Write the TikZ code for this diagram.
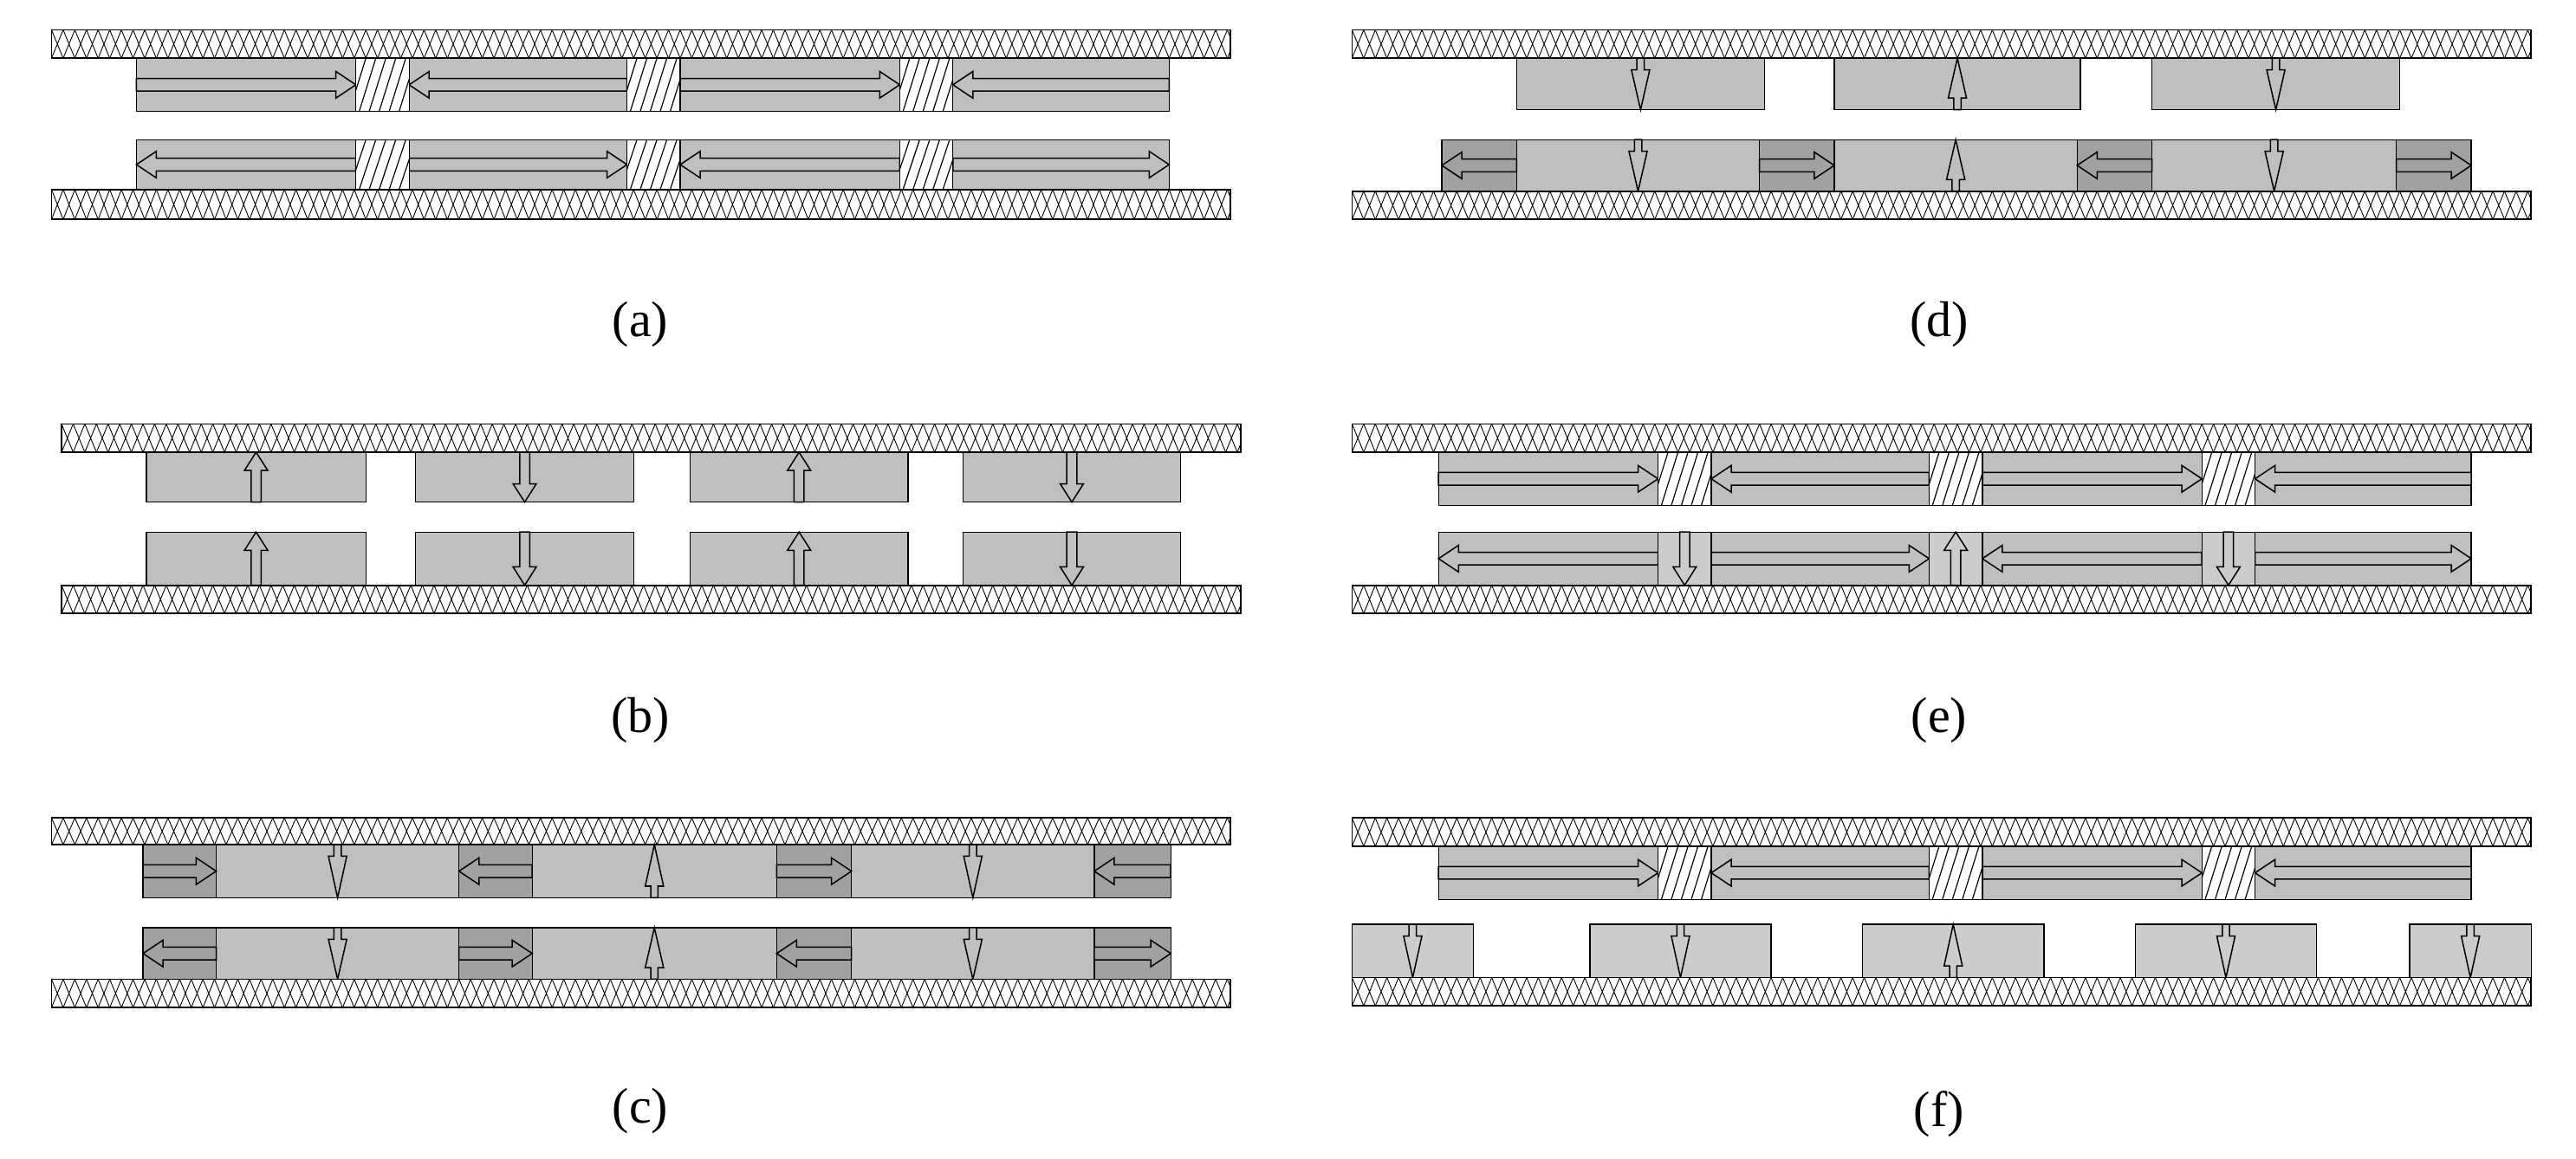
\documentclass[tikz,border=0pt]{standalone}
\usepackage{fontspec}
\setmainfont{Liberation Serif}
\definecolor{mag}{gray}{0.75}
\definecolor{magd}{gray}{0.63}
\definecolor{magl}{gray}{0.80}
\tikzset{blk/.style={fill=#1,draw=black,line width=1.3pt},blk/.default=mag,
 arr/.style={fill=#1,draw=black,line width=1.5pt,line join=miter},arr/.default=mag,
 lab/.style={font=\fontsize{58}{60}\selectfont}}
\newcommand\HArr[4][mag]{%
 \pgfmathsetmacro\hd{(#3>#2)?1:-1}\pgfmathsetmacro\hb{#3-12*\hd}%
 \draw[arr=#1] (#2,#4-3.8) -- (\hb,#4-3.8) -- (\hb,#4-8) -- (#3,#4) -- (\hb,#4+8) -- (\hb,#4+3.8) -- (#2,#4+3.8) -- cycle;}
\newcommand\FArr[4][mag]{%
 \pgfmathsetmacro\hd{(#4>#3)?1:-1}\pgfmathsetmacro\hb{#4-11*\hd}%
 \draw[arr=#1] (#2-3,#3) -- (#2-3,\hb) -- (#2-7,\hb) -- (#2,#4) -- (#2+7,\hb) -- (#2+3,\hb) -- (#2+3,#3) -- cycle;}
\newcommand\NArr[4][mag]{%
 \pgfmathsetmacro\hd{(#4>#3)?1:-1}\pgfmathsetmacro\hb{#3+7*\hd}%
 \draw[arr=#1] (#2-2.2,#3) -- (#2-2.2,\hb) -- (#2-5.5,\hb) -- (#2,#4) -- (#2+5.5,\hb) -- (#2+2.2,\hb) -- (#2+2.2,#3) -- cycle;}
\newcommand\Sub[4]{%
 \fill[white] (#1,#3) rectangle (#2,#4);
 \pgfmathsetmacro\sA{#1+7}%
 \begin{scope}\clip (#1,#3) rectangle (#2,#4);
 \foreach \i in {#1,\sA,...,#2}{\draw[line width=0.9pt] (\i,#3)--(\i+7,#4) (\i+7,#3)--(\i,#4);}
 \end{scope}
 \draw[line width=1.8pt] (#1,#3) rectangle (#2,#4);}
\newcommand\Hat[4]{%
 \fill[white] (#1,#3) rectangle (#2,#4);
 \begin{scope}\clip (#1,#3) rectangle (#2,#4);
 \foreach \i in {-10,-4,...,40}{\draw[line width=1.2pt] (#1+\i,#4)--(#1+\i+10,#3);}
 \end{scope}
 \draw[line width=1.3pt] (#1,#3) rectangle (#2,#4);}
\newcommand\LongRow[3]{%
 \draw[blk] (82,#1) rectangle (703,#2);
 \pgfmathsetmacro\yc{(#1+#2)/2}
 \ifnum#3=1
 \HArr{82}{214}{\yc}\HArr{377}{246}{\yc}\HArr{409}{541}{\yc}\HArr{703}{573}{\yc}
 \else
 \HArr{214}{82}{\yc}\HArr{246}{377}{\yc}\HArr{541}{409}{\yc}\HArr{573}{703}{\yc}
 \fi
 \Hat{214}{246}{#1}{#2}\Hat{377}{409}{#1}{#2}\Hat{541}{573}{#1}{#2}}
\begin{document}
\begin{tikzpicture}[x=1.919pt,y=-1.919pt]
\useasboundingbox (0,0) rectangle (1549,697);
% ---------- (a)
\Sub{31}{740}{18}{35}
\LongRow{35}{67}{1}
\LongRow{84}{114}{0}
\Sub{31}{740}{114}{132}
\node[lab] (la) at (385,195) {(a)};
% ---------- (b)
\Sub{37}{746}{255}{272}
\foreach \a/\b/\d in {88/220/1,250/381/0,415/546/1,579/710/0}{
 \draw[blk] (\a,272) rectangle (\b,302);
 \draw[blk] (\a,320) rectangle (\b,352);
 \pgfmathsetmacro\xc{(\a+\b)/2}
 \ifnum\d=1 \FArr{\xc}{302}{272}\FArr{\xc}{352}{320}\else\FArr{\xc}{272}{302}\FArr{\xc}{320}{352}\fi}
\Sub{37}{746}{352}{369}
\node[lab] (lb) at (385,433) {(b)};
% ---------- (c)
\Sub{31}{740}{492}{508}
\foreach \ya/\yb/\s in {508/540/1,558/589/0}{
 \pgfmathsetmacro\yc{(\ya+\yb)/2}
 \foreach \a/\b/\d in {130/276/0,320/467/1,512/658/0}{
  \draw[blk] (\a,\ya) rectangle (\b,\yb);
  \pgfmathsetmacro\xc{(\a+\b)/2}
  \ifnum\d=1 \NArr{\xc}{\yb}{\ya}\else\NArr{\xc}{\ya}{\yb}\fi}
 \foreach \a/\b/\d in {86/130/0,276/320/1,467/512/0,658/704/1}{
  \draw[blk=magd] (\a,\ya) rectangle (\b,\yb);
  \pgfmathtruncatemacro\dd{mod(\d+\s,2)}
  \ifnum\dd=1 \HArr[magd]{\a}{\b}{\yc}\else\HArr[magd]{\b}{\a}{\yc}\fi}}
\Sub{31}{740}{589}{606}
\node[lab] (lc) at (385,668) {(c)};
% ---------- (d)
\Sub{813}{1522}{18}{35}
\foreach \a/\b/\d in {912/1061/0,1103/1251/1,1294/1443/0}{
 \draw[blk] (\a,35) rectangle (\b,66);
 \pgfmathsetmacro\xc{(\a+\b)/2}
 \ifnum\d=1 \NArr{\xc}{66}{35}\else\NArr{\xc}{35}{66}\fi}
\foreach \a/\b/\d in {912/1058/0,1103/1249/1,1294/1441/0}{
 \draw[blk] (\a,84) rectangle (\b,115);
 \pgfmathsetmacro\xc{(\a+\b)/2}
 \ifnum\d=1 \NArr{\xc}{115}{84}\else\NArr{\xc}{84}{115}\fi}
\foreach \a/\b/\d in {867/912/0,1058/1103/1,1249/1294/0,1441/1486/1}{
 \draw[blk=magd] (\a,84) rectangle (\b,115);
 \ifnum\d=1 \HArr[magd]{\a}{\b}{99.5}\else\HArr[magd]{\b}{\a}{99.5}\fi}
\Sub{813}{1522}{115}{132}
\node[lab] (ld) at (1166,195) {(d)};
% ---------- (e)
\Sub{813}{1522}{255}{272}
\begin{scope}[xshift=1502.6pt]
\LongRow{272}{304}{1}
\draw[blk] (82,320) rectangle (703,352);
\HArr{214}{82}{336}\HArr{246}{377}{336}\HArr{541}{409}{336}\HArr{573}{703}{336}
\foreach \a/\b/\d in {214/246/0,377/409/1,541/573/0}{
 \draw[blk=magl] (\a,320) rectangle (\b,352);
 \pgfmathsetmacro\xc{(\a+\b)/2}
 \ifnum\d=1 \FArr[magl]{\xc}{352}{320}\else\FArr[magl]{\xc}{320}{352}\fi}
\end{scope}
\Sub{813}{1522}{352}{369}
\node[lab] (le) at (1166,433) {(e)};
% ---------- (f)
\Sub{813}{1522}{492}{509}
\begin{scope}[xshift=1502.6pt]
\LongRow{509}{541}{1}
\end{scope}
\foreach \a/\b/\d in {813/886/0,956/1065/0,1120/1229/1,1284/1393/0,1449/1522/0}{
 \draw[blk=magl] (\a,556) rectangle (\b,588);
 \pgfmathsetmacro\xc{(\a+\b)/2}
 \ifnum\d=1 \NArr[magl]{\xc}{588}{556}\else\NArr[magl]{\xc}{556}{588}\fi}
\Sub{813}{1522}{588}{605}
\node[lab] (lf) at (1166,670) {(f)};
\end{tikzpicture}
\end{document}
